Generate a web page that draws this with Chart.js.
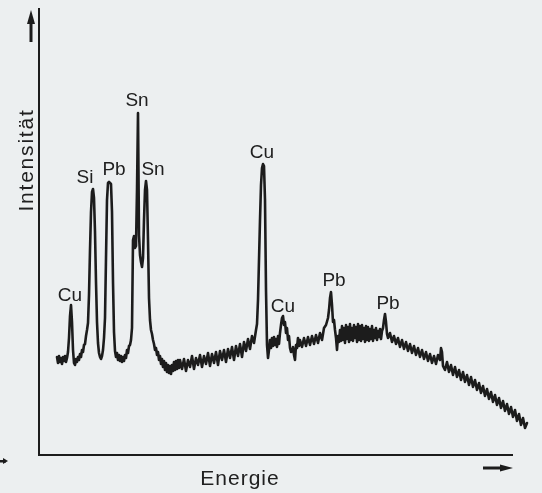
<!DOCTYPE html>
<html>
<head>
<meta charset="utf-8">
<script src="https://cdn.jsdelivr.net/npm/chart.js@4/dist/chart.umd.min.js"></script>
<style>
  html, body { margin: 0; padding: 0; background: #eceff0; }
  #wrap { width: 542px; height: 493px; position: relative; }
</style>
</head>
<body>
<div id="wrap"><canvas id="c" width="542" height="493"></canvas></div>
<script>
// Energy channel (arbitrary units) and measured intensity (arbitrary units), row by row
const energy = [
  18,19,20,21,22,23,24,25,26,27,28,29,30,31,32,33,
  34,35,36,37,38,39,40,41,42,43,44,45,46,47,48,49,
  50,51,52,53,54,55,56,57,58,59,60,61,62,63,64,65,
  66,67,68,69,70,71,72,73,74,75,76,77,78,79,80,81,
  82,83,84,85,86,87,88,89,90,91,92,93,94,95,96,97,
  98,99,100,101,102,103,104,105,106,107,108,109,110,111,112,113,
  114,115,116,117,118,119,120,121,122,123,124,125,126,127,128,129,
  130,131,132,133,134,135,136,137,138,139,140,141,
  143,145,147,149,151,153,155,157,159,161,163,165,167,169,171,173,
  175,177,179,181,183,185,187,189,191,193,195,197,199,201,203,205,
  207,209,211,213,215,217,218,219,220,221,222,223,224,225,
  226,227,228,229,230,231,232,233,234,235,236,237,238,239,240,241,
  242,243,244,245,246,247,248,249,250,251,252,253,254,255,256,257,
  258,259,260,261,263,265,267,269,271,273,275,277,279,281,283,285,
  287,289,290,291,292,293,294,295,296,297,298,299,300,
  301,302,303,304,305,306,307,308,309,310,311,312,313,314,315,316,
  317,318,319,320,321,322,323,324,325,326,327,328,329,330,331,332,
  333,334,335,336,337,338,339,340,341,342,343,
  344,345,346,347,348,349,351,353,355,357,359,361,
  363,365,367,369,371,373,375,377,379,381,383,385,387,389,391,393,
  395,397,399,401,402,403,404,406,408,410,412,414,416,418,420,422,
  424,426,428,430,432,434,436,438,440,442,444,446,448,450,452,454,
  456,458,460,462,464,466,468,470,472,474,476,478,480,482,484,486,488
];
const intensity = [
  98,92,99,93,97,91,98,94,99,93,97,103,117,139,150,133,
  105,92,90,96,93,98,95,101,98,105,103,110,111,119,125,132,
  160,205,243,263,266,257,223,173,133,112,102,98,96,99,105,117,
  137,197,255,272,273,272,271,243,173,123,104,98,102,95,100,94,
  99,93,98,94,100,97,105,102,109,110,115,127,215,219,207,209,
  265,342,220,200,193,188,197,235,265,274,265,215,157,135,125,121,
  115,111,105,107,100,103,95,99,91,96,88,94,85,92,83,90,
  82,89,81,90,84,93,85,94,86,95,87,95,
  86,96,84,95,88,99,86,97,90,100,88,99,91,102,89,101,
  92,103,90,104,95,105,93,106,97,108,95,109,99,111,98,113,
  104,116,106,119,112,125,131,155,195,235,270,287,291,289,
  255,165,110,97,105,115,107,117,109,118,110,116,108,119,111,122,
  130,137,139,130,133,122,127,115,119,107,103,104,108,100,95,110,
  107,117,109,115,108,117,109,118,110,119,111,120,112,122,115,127,
  130,137,145,157,163,150,133,135,125,117,105,119,113,
  125,114,129,115,127,112,130,116,128,113,131,115,127,114,130,117,
  128,113,131,115,129,114,130,116,127,113,129,115,128,114,126,116,
  129,114,125,117,127,115,124,118,126,116,124,
  127,135,141,133,121,117,122,113,119,111,117,108,
  115,106,113,104,111,102,109,100,107,98,105,96,103,94,101,92,
  99,91,100,95,107,103,89,85,93,83,90,80,88,78,85,75,
  83,73,80,70,78,68,75,65,72,62,69,59,66,56,63,53,
  60,50,57,47,54,44,51,41,48,38,45,34,41,30,37,27,32
];

// Peak labels and where they sit (energy, intensity of the label baseline)
const peakNames     = ["Cu", "Si", "Pb", "Sn", "Sn", "Cu", "Cu", "Pb", "Pb"];
const peakEnergy    = [31, 46, 75, 98, 114, 223, 244, 295, 349];
const peakIntensity = [154, 272, 280, 349, 280, 297, 143, 169, 146];

const axisTitles = { x: "Energie", y: "Intensität" };

const points = energy.map((e, i) => ({ x: e, y: intensity[i] }));

const INK = '#1c1c1c';

const decor = {
  id: 'decor',
  afterDatasetsDraw(chart) {
    const ctx = chart.ctx;
    const xs = chart.scales.x, ys = chart.scales.y;
    ctx.save();
    // axes
    ctx.strokeStyle = INK;
    ctx.lineWidth = 2;
    ctx.lineCap = 'butt';
    ctx.beginPath();
    ctx.moveTo(xs.left, ys.getPixelForValue(447));
    ctx.lineTo(xs.left, ys.bottom + 1);
    ctx.moveTo(xs.left - 1, ys.bottom);
    ctx.lineTo(xs.getPixelForValue(474), ys.bottom);
    ctx.stroke();

    ctx.fillStyle = INK;
    // vertical arrow (intensity)
    const ax = xs.left - 8;
    ctx.fillRect(ax - 1.5, ys.top + 12, 3, 20);
    ctx.beginPath();
    ctx.moveTo(ax, ys.top);
    ctx.lineTo(ax - 4, ys.top + 14);
    ctx.lineTo(ax + 4, ys.top + 14);
    ctx.closePath();
    ctx.fill();
    // horizontal arrow (energy)
    const ay = ys.bottom + 13;
    const tip = xs.getPixelForValue(474);
    ctx.fillRect(tip - 30, ay - 1.5, 20, 3);
    ctx.beginPath();
    ctx.moveTo(tip, ay);
    ctx.lineTo(tip - 13, ay - 3.5);
    ctx.lineTo(tip - 13, ay + 3.5);
    ctx.closePath();
    ctx.fill();
    // small fragment at left edge
    ctx.fillRect(0, ys.bottom + 5, 6, 2.5);
    ctx.beginPath();
    ctx.moveTo(8, ys.bottom + 6);
    ctx.lineTo(3, ys.bottom + 3);
    ctx.lineTo(3, ys.bottom + 9);
    ctx.closePath();
    ctx.fill();

    // text
    ctx.fillStyle = '#202020';
    ctx.textBaseline = 'alphabetic';
    ctx.textAlign = 'center';
    ctx.font = '19px "Liberation Sans", Arial, Helvetica, sans-serif';
    try { ctx.letterSpacing = '0px'; } catch (e) {}
    peakNames.forEach((n, i) => {
      ctx.fillText(n, xs.getPixelForValue(peakEnergy[i]), ys.getPixelForValue(peakIntensity[i]));
    });

    ctx.font = '21px "Liberation Sans", Arial, Helvetica, sans-serif';
    try { ctx.letterSpacing = '1px'; } catch (e) {}
    ctx.fillText(axisTitles.x, xs.getPixelForValue(201), ys.bottom + 30);

    ctx.save();
    ctx.translate(xs.left - 6, ys.getPixelForValue(295));
    ctx.rotate(-Math.PI / 2);
    try { ctx.letterSpacing = '1.8px'; } catch (e) {}
    ctx.fillText(axisTitles.y, 0, 0);
    ctx.restore();

    ctx.restore();
  }
};

new Chart(document.getElementById('c'), {
  type: 'line',
  data: {
    datasets: [{
      data: points,
      borderColor: INK,
      borderWidth: 2.6,
      pointRadius: 0,
      tension: 0,
      fill: false,
      borderJoinStyle: 'round',
      borderCapStyle: 'round',
      clip: false
    }]
  },
  options: {
    responsive: false,
    devicePixelRatio: 1,
    animation: false,
    layout: { padding: { left: 39, right: 12, top: 10, bottom: 38 } },
    plugins: { legend: { display: false }, tooltip: { enabled: false } },
    scales: {
      x: { type: 'linear', min: 0, max: 491, display: false },
      y: { type: 'linear', min: 0, max: 445, display: false }
    }
  },
  plugins: [decor]
});
</script>
</body>
</html>
